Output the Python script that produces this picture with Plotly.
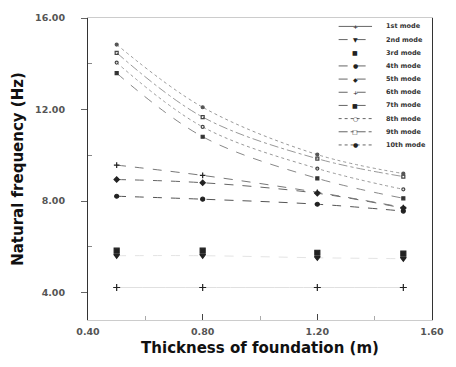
import plotly.graph_objects as go

thickness = [0.5, 0.8, 1.2, 1.5]
mode_names = ["1st mode", "2nd mode", "3rd mode", "4th mode", "5th mode",
              "6th mode", "7th mode", "8th mode", "9th mode", "10th mode"]
mode1 = [4.22, 4.22, 4.22, 4.22]
mode2 = [5.61, 5.61, 5.52, 5.48]
mode3 = [5.83, 5.83, 5.74, 5.70]
mode4 = [8.21, 8.08, 7.86, 7.56]
mode5 = [8.94, 8.80, 8.34, 7.69]
mode6 = [9.57, 9.12, 8.38, 7.72]
mode7 = [13.59, 10.81, 8.99, 8.12]
mode8 = [14.05, 11.24, 9.42, 8.51]
mode9 = [14.48, 11.67, 9.85, 9.07]
mode10 = [14.84, 12.10, 10.03, 9.20]
modes = [mode1, mode2, mode3, mode4, mode5, mode6, mode7, mode8, mode9, mode10]

# (line colour, dash or None, marker symbol, marker size, marker colour)
styles = [
    ("#e0e0e0", "solid", "cross-thin", 5, "#222"),
    ("#e4e4e4", "dash", "triangle-down", 5, "#222"),
    ("#e4e4e4", None, "square", 5, "#222"),
    ("#555555", "dash", "circle", 4, "#222"),
    ("#666666", "dash", "diamond", 4, "#222"),
    ("#777777", "dash", "cross-thin", 4, "#222"),
    ("#888888", "dash", "square", 3, "#333"),
    ("#999999", "dot", "circle-open", 3, "#444"),
    ("#999999", "dashdot", "square-open", 3, "#444"),
    ("#999999", "dot", "circle", 3, "#555"),
]
glyph = {"cross-thin": "+", "triangle-down": "\u25BC", "square": "\u25A0",
         "circle": "\u25CF", "diamond": "\u25C6", "circle-open": "\u25CB",
         "square-open": "\u25A1"}

fig = go.Figure()
for name, vals, (lc, dash, sym, ms, mc) in zip(mode_names, modes, styles):
    fig.add_trace(go.Scatter(
        x=thickness, y=vals, name=name, showlegend=False,
        mode="lines+markers" if dash else "markers",
        line=dict(color=lc, width=1, dash=dash or "solid", shape="spline"),
        marker=dict(symbol=sym, size=ms, color=mc, line=dict(width=1.2, color=mc))))

# compact legend (plotly's own legend cannot use rows this tight)
plot_top, plot_bottom, plot_left, plot_right = 15, 320, 88, 438
row0, row_step = 23.5, 13.3
for i, (name, (lc, dash, sym, ms, mc)) in enumerate(zip(mode_names, styles)):
    yp = (plot_bottom - (row0 + row_step * i)) / (plot_bottom - plot_top)
    x0 = (343 - plot_left) / (plot_right - plot_left)
    x1 = (377 - plot_left) / (plot_right - plot_left)
    xt = (389 - plot_left) / (plot_right - plot_left)
    if dash:
        fig.add_shape(type="line", xref="paper", yref="paper", x0=x0, x1=x1,
                      y0=yp, y1=yp, line=dict(color="#666", width=1, dash=dash))
    fig.add_annotation(xref="paper", yref="paper", x=(x0 + x1) / 2, y=yp,
                       text=glyph[sym], showarrow=False, xanchor="center",
                       yanchor="middle",
                       font=dict(family="DejaVu Sans", size=6, color="#222"))
    fig.add_annotation(xref="paper", yref="paper", x=xt, y=yp, text=name,
                       showarrow=False, xanchor="left", yanchor="middle",
                       font=dict(family="DejaVu Sans", size=6.5, color="#333",
                                 weight="bold"))

tickfont = dict(family="DejaVu Sans", size=9.5, color="#555", weight="bold")
titlefont = dict(family="DejaVu Sans", size=15, color="#111", weight="bold")
fig.update_layout(
    width=456, height=367,
    margin=dict(l=88, r=18, t=15, b=47),
    paper_bgcolor="white", plot_bgcolor="white",
    font=dict(family="DejaVu Sans", color="#111"),
    showlegend=False,
    xaxis=dict(range=[0.4, 1.6], tickvals=[0.4, 0.8, 1.2, 1.6],
               ticktext=["0.40", "0.80", "1.20", "1.60"],
               ticks="inside", ticklen=6, tickcolor="#444",
               minor=dict(dtick=0.2, ticks="inside", ticklen=4, tickcolor="#aaa"),
               showline=True, linecolor="#ccc", linewidth=1, mirror=True,
               showgrid=False, zeroline=False, tickfont=tickfont,
               ticklabelstandoff=3,
               title=dict(text="Thickness of foundation (m)", standoff=6,
                          font=titlefont)),
    yaxis=dict(range=[2.8, 16], tickvals=[4, 8, 12, 16],
               ticktext=["4.00", "8.00", "12.00", "16.00"],
               ticks="outside", ticklen=6, tickcolor="#666",
               minor=dict(tickvals=[6, 10, 14], ticks="inside", ticklen=4, tickcolor="#888"),
               showline=True, linecolor="#333", linewidth=1, mirror=True,
               showgrid=False, zeroline=False, tickfont=tickfont,
               ticklabelstandoff=14,
               title=dict(text="Natural frequency (Hz)", standoff=7,
                          font=titlefont)),
)
fig.write_html("out.html")
